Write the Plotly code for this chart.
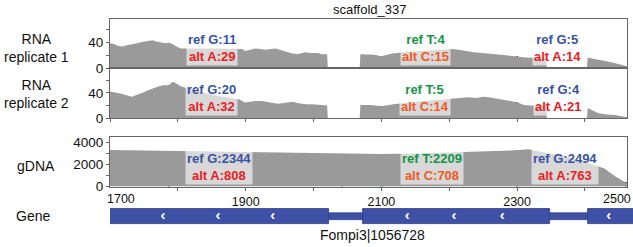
import plotly.graph_objects as go

# ---------------- data ----------------
rna_pos = [1700, 1706, 1712, 1718, 1725, 1732, 1740, 1747, 1755, 1763, 1768, 1775, 1782, 1787,
           1792, 1800, 1805, 1850, 1895, 1899, 1906, 1914, 1922, 1929, 1937, 1944, 1950, 1958,
           1966, 1976, 1982, 1988, 1996, 2007, 2012, 2020, 2021, 2068, 2069, 2080, 2090, 2100,
           2108, 2116, 2140, 2170, 2205, 2214, 2224, 2236, 2249, 2262, 2276, 2287, 2298, 2301,
           2313, 2343, 2344, 2403, 2404, 2412, 2420, 2432, 2445, 2455, 2463]
rep1_cov = [39, 38, 35, 34, 36, 37, 39, 41, 43, 44, 42, 40, 39, 40,
            38, 33, 31, 31, 30, 27, 29, 31, 30, 29, 30, 31, 29, 26,
            24, 22, 24, 25, 24, 24, 22, 22, 0, 0, 22, 22, 21, 19,
            21, 23, 26, 28, 30, 29, 27, 25, 24, 22, 21, 20, 19, 19,
            17, 16, 0, 0, 17, 15, 13, 11, 8, 5, 3]

rna2_pos = [1700, 1708, 1715, 1722, 1732, 1738, 1744, 1750, 1756, 1763, 1771, 1778, 1786, 1787,
            1790, 1793, 1797, 1805, 1830, 1860, 1890, 1899, 1906, 1914, 1924, 1932, 1940, 1948,
            1958, 1969, 1976, 1988, 1998, 2007, 2020, 2021, 2068, 2069, 2085, 2100, 2110, 2118,
            2150, 2180, 2205, 2215, 2228, 2240, 2250, 2258, 2268, 2278, 2287, 2295, 2301, 2310,
            2320, 2343, 2344, 2403, 2404, 2410, 2420, 2432, 2445, 2455, 2463]
rep2_cov = [42, 41, 39, 37, 34, 36, 38, 41, 44, 47, 50, 52, 53, 52,
            56, 57, 55, 50, 42, 35, 30, 25, 26, 27, 27, 25, 24, 23,
            25, 26, 24, 22, 22, 21, 20, 0, 0, 21, 21, 19, 21, 22,
            26, 29, 31, 32, 33, 32, 34, 33, 31, 30, 28, 26, 25, 21,
            20, 20, 0, 0, 16, 13, 8, 6, 5, 3, 2]

gdna_pos = [1700, 1720, 1750, 1787, 1830, 1880, 1930, 2000, 2042, 2100, 2150, 2200, 2234,
            2270, 2298, 2317, 2340, 2364, 2390, 2408, 2428, 2445, 2463]
gdna_cov = [3290, 3270, 3240, 3200, 3180, 3120, 3060, 2990, 2930, 2920, 2980, 3060, 3140,
            3200, 3260, 3350, 3080, 2760, 2380, 2050, 1650, 900, 250]

snp_pos = [1787, 2100, 2300]
ref_base = ["G", "T", "G"]
alt_base = ["A", "C", "A"]
rep1_ref = [11, 4, 5]
rep1_alt = [29, 15, 14]
rep2_ref = [20, 5, 4]
rep2_alt = [32, 14, 21]
gdna_ref = [2344, 2209, 2494]
gdna_alt = [808, 708, 763]

# unlabeled gDNA-only variants
gdna_extra_pos = [2042, 2461]
gdna_extra_refbase = ["T", "G"]
gdna_extra_altbase = ["C", "A"]
gdna_extra_ref = [740, 130]
gdna_extra_alt = [2190, 250]

exon_start = [1650, 2073, 2405]
exon_end = [2023, 2349, 2520]
intron_start = [2023, 2349]
intron_end = [2073, 2405]
strand_marks = [1778, 1859, 1940, 2138, 2207, 2278, 2435]
gene_name = "Fompi3|1056728"
title = "scaffold_337"

x_ticks = [1700, 1800, 1900, 2000, 2100, 2200, 2300, 2400, 2500]
x_tick_labels = ["1700", "", "1900", "", "2100", "", "2300", "", "2500"]

# ---------------- style ----------------
W, H = 633, 247
FONT = "Liberation Sans, Arial, Helvetica, sans-serif"
GRAY = "#9a9a9a"
FRAME = "#666666"
base_col = {"G": "#3953a4", "A": "#ec1c24", "T": "#159447", "C": "#f15a24"}
GENE = "#3f51a5"
GENE_EDGE = "#2c3a88"

def px_x(p):
    return p / W

def px_y(p):
    return 1 - p / H

XD = [px_x(110), px_x(627)]
XRANGE = [1700, 2462]
gene_xrange = [1700, 1700 + (633 - 110) * (XRANGE[1] - XRANGE[0]) / (627 - 110)]

fig = go.Figure()

def coverage(x, y, xa, ya):
    fig.add_trace(go.Scatter(x=x, y=y, mode="lines", fill="tozeroy", fillcolor=GRAY,
                             line=dict(width=0, color=GRAY), xaxis=xa, yaxis=ya,
                             hoverinfo="skip", showlegend=False))

def snps(pos, rb, ab, rv, av, xa, ya):
    fig.add_trace(go.Bar(x=pos, y=rv, base=[0] * len(pos), width=4,
                         marker=dict(color=[base_col[b] for b in rb], line=dict(width=0)),
                         xaxis=xa, yaxis=ya, showlegend=False))
    fig.add_trace(go.Bar(x=pos, y=av, base=rv, width=4,
                         marker=dict(color=[base_col[b] for b in ab], line=dict(width=0)),
                         xaxis=xa, yaxis=ya, showlegend=False))

coverage(rna_pos, rep1_cov, "x", "y")
snps(snp_pos, ref_base, alt_base, rep1_ref, rep1_alt, "x", "y")
coverage(rna2_pos, rep2_cov, "x2", "y2")
snps(snp_pos, ref_base, alt_base, rep2_ref, rep2_alt, "x2", "y2")
coverage(gdna_pos, gdna_cov, "x3", "y3")
snps(snp_pos, ref_base, alt_base, gdna_ref, gdna_alt, "x3", "y3")
snps(gdna_extra_pos, gdna_extra_refbase, gdna_extra_altbase, gdna_extra_ref, gdna_extra_alt, "x3", "y3")

# gene model
fig.add_trace(go.Bar(orientation="h", y=[0.5] * len(intron_start),
                     x=[e - s for s, e in zip(intron_start, intron_end)], base=intron_start,
                     width=0.21, marker=dict(color=GENE, line=dict(width=0.6, color=GENE_EDGE)),
                     xaxis="x4", yaxis="y4", showlegend=False))
fig.add_trace(go.Bar(orientation="h", y=[0.5] * len(exon_start),
                     x=[e - s for s, e in zip(exon_start, exon_end)], base=exon_start,
                     width=0.52, marker=dict(color=GENE, line=dict(width=0.8, color=GENE_EDGE)),
                     xaxis="x4", yaxis="y4", showlegend=False))
fig.add_trace(go.Scatter(x=strand_marks, y=[0.5] * len(strand_marks), mode="text",
                         text=["<b>‹</b>"] * len(strand_marks),
                         textfont=dict(color="white", size=15, family=FONT),
                         xaxis="x4", yaxis="y4", showlegend=False, hoverinfo="skip"))

# labels for variants
def label(x, y, rb, rv, ab, av, xa, ya):
    txt = (f"<b><span style='color:{base_col[rb]}'>ref {rb}:{rv}</span><br>"
           f"<span style='color:{base_col[ab]}'>alt {ab}:{av}</span></b>")
    fig.add_annotation(x=x, y=y, xref=xa, yref=ya, text=txt, showarrow=False,
                       bgcolor="rgba(255,255,255,0.62)", borderpad=1,
                       xanchor="center", yanchor="middle",
                       font=dict(family=FONT, size=13), align="center")

rna_label_x = [1850, 2165, 2360]
gdna_label_x = [1861, 2175, 2371]
for i in range(3):
    label(rna_label_x[i], 31, ref_base[i], rep1_ref[i], alt_base[i], rep1_alt[i], "x", "y")
    label(rna_label_x[i], 31.7, ref_base[i], rep2_ref[i], alt_base[i], rep2_alt[i], "x2", "y2")
    label(gdna_label_x[i], 1800, ref_base[i], gdna_ref[i], alt_base[i], gdna_alt[i], "x3", "y3")

# track titles and free text
def text_at(text, xpx, ypx, size=14, xanchor="center"):
    fig.add_annotation(x=px_x(xpx), y=px_y(ypx), xref="paper", yref="paper", text=text,
                       showarrow=False, font=dict(family=FONT, size=size, color="#111"),
                       xanchor=xanchor, yanchor="middle", align="center")

text_at("RNA<br>replicate 1", 36, 48)
text_at("RNA<br>replicate 2", 36, 94)
text_at("gDNA", 36, 166)
text_at("Gene", 33, 216)
text_at(title, 370, 9, size=13)
text_at(gene_name, 372, 235, size=14)

# edge tick labels (kept inside the frame as in the original)
fig.add_annotation(x=x_ticks[0], y=px_y(199), xref="x3", yref="paper", text=x_tick_labels[0],
                   showarrow=False, xanchor="left", yanchor="middle", xshift=-5,
                   font=dict(family=FONT, size=12.5, color="#111"))
fig.add_annotation(x=1.0, y=px_y(199), xref="paper", yref="paper", text=x_tick_labels[-1],
                   showarrow=False, xanchor="right", yanchor="middle",
                   font=dict(family=FONT, size=12.5, color="#111"))

axis_common = dict(showgrid=False, zeroline=False, showline=True, mirror=True,
                   linecolor=FRAME, linewidth=1, tickcolor=FRAME,
                   tickfont=dict(family=FONT, size=13.5, color="#111"))

fig.update_layout(
    width=W, height=H, margin=dict(l=0, r=0, t=0, b=0, autoexpand=False),
    plot_bgcolor="white", paper_bgcolor="white", barmode="overlay", bargap=0,
    showlegend=False,
    xaxis=dict(domain=XD, range=XRANGE, anchor="y", showticklabels=False, ticks="", **axis_common),
    yaxis=dict(domain=[px_y(68.3), px_y(19)], range=[0, 77], anchor="x",
               tickvals=[0, 20, 40, 60], ticktext=["0", "", "40", ""], ticks="outside", ticklen=3,
               **axis_common),
    xaxis2=dict(domain=XD, range=XRANGE, anchor="y2", showticklabels=False, ticks="outside",
                ticklen=3, tickvals=x_ticks, **axis_common),
    yaxis2=dict(domain=[px_y(118.3), px_y(68.3)], range=[0, 78.5], anchor="x2",
                tickvals=[0, 20, 40, 60], ticktext=["0", "", "40", ""], ticks="outside", ticklen=3,
                **axis_common),
    xaxis3=dict(domain=XD, range=XRANGE, anchor="y3", ticks="outside", ticklen=3,
                tickvals=x_ticks[1:-1], ticktext=x_tick_labels[1:-1], **{**axis_common,
                "tickfont": dict(family=FONT, size=12.5, color="#111")}),
    yaxis3=dict(domain=[px_y(186.5), px_y(137)], range=[0, 4460], anchor="x3",
                tickvals=[0, 1000, 2000, 3000, 4000], ticktext=["0", "", "2000", "", "4000"],
                ticks="outside", ticklen=3, **axis_common),
    xaxis4=dict(domain=[px_x(110), 1.0], range=gene_xrange, anchor="y4", visible=False),
    yaxis4=dict(domain=[px_y(231), px_y(202)], range=[0, 1], anchor="x4", visible=False),
)

fig.write_html("out.html", config={"displayModeBar": False},
               post_script="document.body.style.margin='0';document.body.style.overflow='hidden';")
